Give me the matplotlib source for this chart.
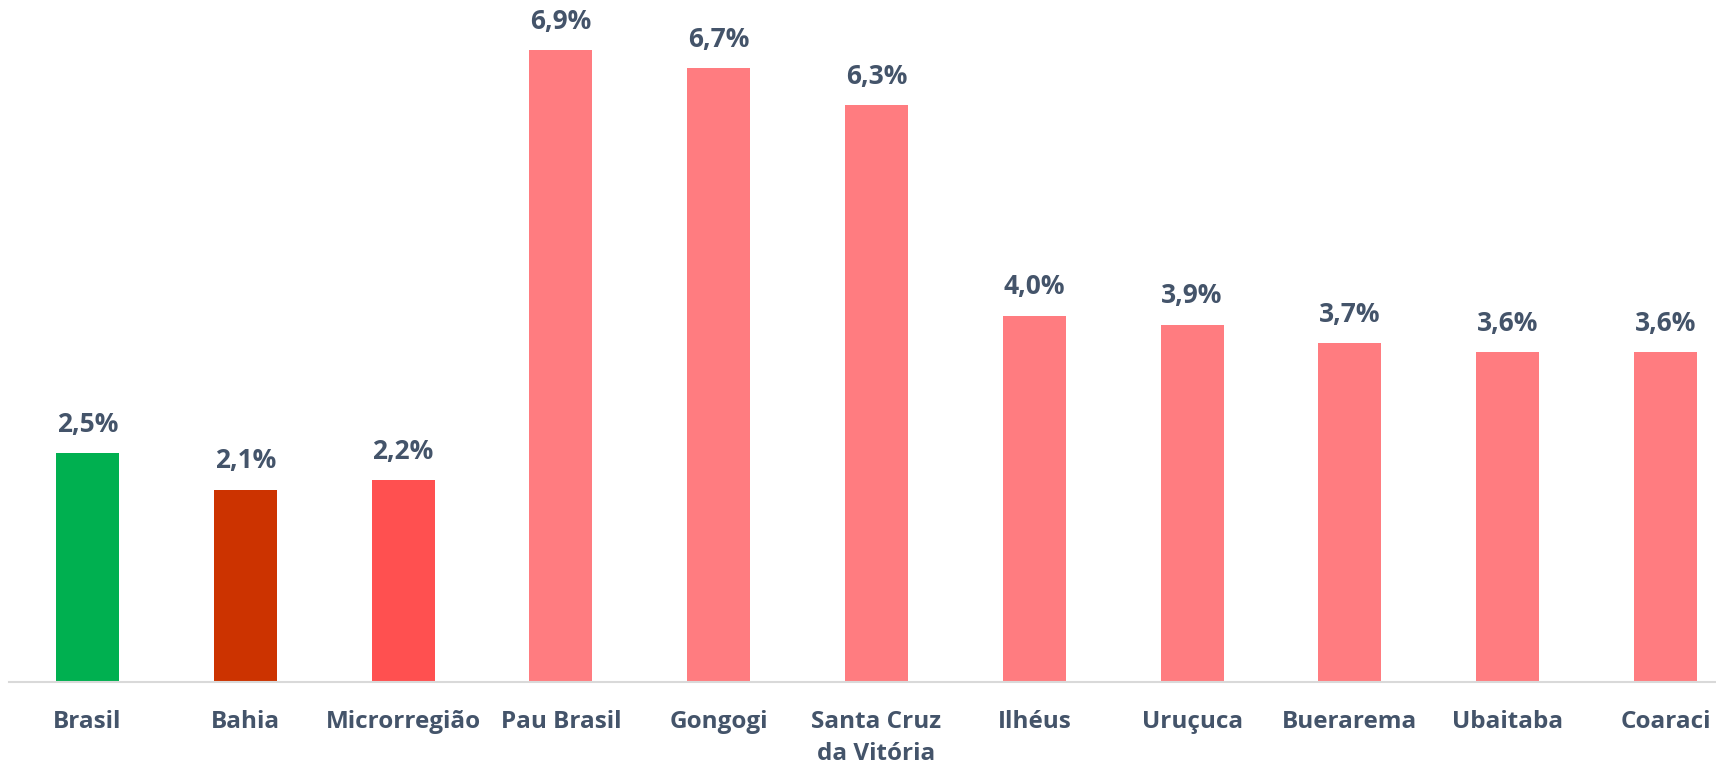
import numpy as np
import matplotlib.pyplot as plt

# Data ---------------------
categories = ['Brasil', 'Bahia', 'Microrregião', 'Pau Brasil', 'Gongogi',
              'Santa Cruz\nda Vitória', 'Ilhéus', 'Uruçuca', 'Buerarema',
              'Ubaitaba', 'Coaraci']
values = [2.5, 2.1, 2.2, 6.9, 6.7, 6.3, 4.0, 3.9, 3.7, 3.6, 3.6]
bar_colors = ['#00B050', '#CC3300', '#FF5050'] + ['#FF7C80'] * 8

text_color = '#44546A'
plt.rcParams['font.family'] = ['Open Sans', 'DejaVu Sans']

# Figure -------------------
fig = plt.figure(figsize=(17.16, 7.66), dpi=100)
ax = fig.add_axes([9 / 1716, 84 / 766, 1 - 9 / 1716, 682 / 766])

x = np.arange(len(categories))
bars = ax.bar(x, values, width=0.4, color=bar_colors)

for rect, v in zip(bars, values):
    ax.annotate(f'{v:.1f}%'.replace('.', ','),
                (rect.get_x() + rect.get_width() / 2, v),
                xytext=(0, 11), textcoords='offset points',
                ha='center', va='bottom', fontsize=19,
                fontweight='bold', color=text_color)

ax.set_xlim(-0.4976, (1716 - 87.5) / 157.8)
ax.set_ylim(0, 682 / 91.6)

ax.set_xticks(x)
ax.set_xticklabels(categories, fontsize=17.5, fontweight='bold',
                   color=text_color, linespacing=1.45)
ax.tick_params(axis='x', length=0, pad=20)
ax.set_yticks([])

for s in ['top', 'right', 'left']:
    ax.spines[s].set_visible(False)
ax.spines['bottom'].set_color('#D9D9D9')
ax.spines['bottom'].set_linewidth(1.5)

fig.savefig('out.png', dpi=100)
